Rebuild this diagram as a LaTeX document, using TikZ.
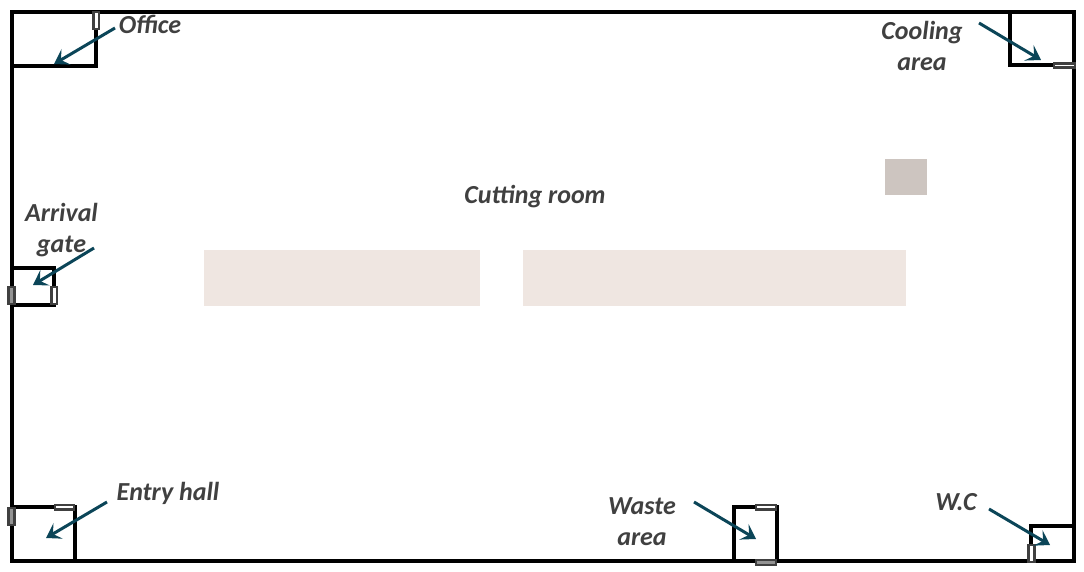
\documentclass[tikz,border=0pt]{standalone}
\usepackage{fontspec}
\setmainfont{Carlito}
\usetikzlibrary{arrows.meta}
\definecolor{wallc}{HTML}{000000}
\definecolor{labelc}{HTML}{404040}
\definecolor{arrowc}{HTML}{0B4558}
\definecolor{benchc}{HTML}{EFE6E1}
\definecolor{blockc}{HTML}{CDC5C0}
\tikzset{
  x=1pt,y=-1pt,
  wall/.style={draw=wallc,line width=3.6pt,line join=miter,line cap=square},
  thinwall/.style={draw=wallc,line width=3.3pt,line join=miter,line cap=square},
  lab/.style={font=\fontsize{26}{31}\selectfont\bfseries\itshape,text=labelc,align=center,inner sep=0pt},
  callout/.style={draw=arrowc,line width=3pt,-{Stealth[length=14pt,width=18pt,inset=6pt]}},
  doorw/.style={draw=labelc,fill=white,line width=2.2pt},
  doord/.style={draw=labelc,fill=gray!85,line width=2.6pt},
}
\begin{document}
\begin{tikzpicture}
\useasboundingbox (0,0) rectangle (1084,572);
% benches
\fill[benchc] (204,250) rectangle (480,306);
\fill[benchc] (523,250) rectangle (906,306);
\fill[blockc] (885,159) rectangle (927,195);
% rooms
\draw[thinwall] (12,66) -- (96,66) -- (96,12);
\draw[thinwall] (1010,12) -- (1010,65) -- (1074,65);
\draw[thinwall] (12,268) -- (54,268) -- (54,305) -- (12,305);
\draw[thinwall] (12,507) -- (75,507) -- (75,561);
\draw[thinwall] (734,561) -- (734,507) -- (777,507) -- (777,561);
\draw[thinwall] (1031,561) -- (1031,526) -- (1074,526);
% outer wall
\draw[wall] (12,12) rectangle (1074,561);
% doors
\draw[doorw] (93.5,12) rectangle (99,29);
\draw[doorw] (1054,63.5) rectangle (1075,67.5);
\draw[doord] (8.5,287) rectangle (14.5,304);
\draw[doorw] (51.5,287) rectangle (57,304);
\draw[doord] (8.5,508) rectangle (14.5,525);
\draw[doorw] (55,505) rectangle (74,509.5);
\draw[doorw] (756,505) rectangle (776,509.5);
\draw[doord] (756,560) rectangle (776,565);
\draw[doorw] (1028.5,545) rectangle (1034.5,562);
% labels
\node[lab] (office) at (150,24.5) {Office};
\node[lab] (cooling) at (922,46) {Cooling\\area};
\node[lab] (arrival) at (61.5,230) {Arrival\\gate};
\node[lab] (cutting) at (535,196.5) {Cutting room};
\node[lab] (entry) at (168,493) {Entry hall};
\node[lab] (waste) at (642,522) {Waste\\area};
\node[lab] (wc) at (956,502) {W.C};
% callout ends
\coordinate (o1) at (115,28);   \coordinate (o2) at (54,64);
\coordinate (c1) at (979,23);   \coordinate (c2) at (1041,60);
\coordinate (a1) at (94,248);   \coordinate (a2) at (33,285);
\coordinate (e1) at (107,502);  \coordinate (e2) at (46,538);
\coordinate (w1) at (694,502);  \coordinate (w2) at (756,539);
\coordinate (v1) at (989,509);  \coordinate (v2) at (1050,545);
\draw[callout] (o1) -- (o2);
\draw[callout] (c1) -- (c2);
\draw[callout] (a1) -- (a2);
\draw[callout] (e1) -- (e2);
\draw[callout] (w1) -- (w2);
\draw[callout] (v1) -- (v2);
\end{tikzpicture}
\end{document}
